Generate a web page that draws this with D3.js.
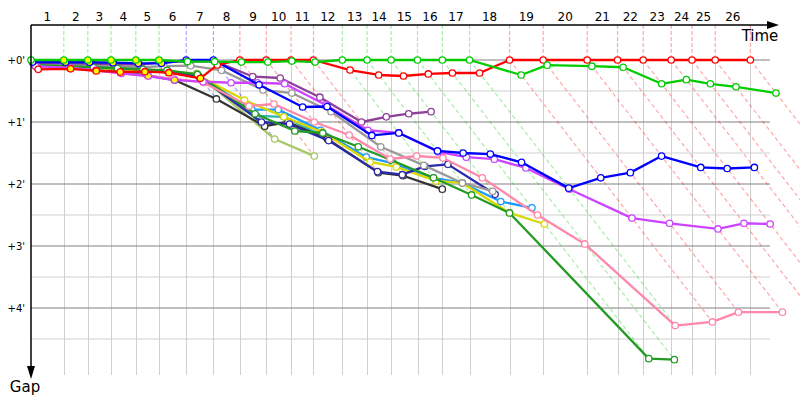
<!DOCTYPE html>
<html>
<head>
<meta charset="UTF-8" />
<title>Gap chart</title>
<script src="https://cdn.jsdelivr.net/npm/d3@7"></script>
<style>
	body { margin: 0; background: #fff; }
	svg { font-family: "DejaVu Sans", sans-serif; }
</style>
</head>
<body>
<div id="chart"></div>
<script>
// leader's cumulative time at the end of each lap (s)
var lapTimes = [41, 71, 100, 131, 160, 194, 228, 261, 294, 325, 353, 389, 420,
	450, 483, 514, 548, 598, 640, 695, 733, 765, 800, 826, 855, 899];
var lapLabels = d3.range(1, 27);
var gapTicks = [0, 60, 120, 180, 240];
var gapLabels = ["+0'", "+1'", "+2'", "+3'", "+4'"];

// gap to the leader at each lap (s), lap 0 first
var gapsGreen = [0, 0, 0, 0, 0, 0, 1.5, 1.5, 2, 2, 1, 2, 0, 0, 0, 0, 0, 0, 14.5, 5, 6, 7, 23, 19, 23, 26, 32];
var gapsRed = [9, 8.5, 10.6, 11.5, 11.3, 12.3, 17.7, 4.8, 0, 0, 0, 0, 9.7, 14.5, 15.5, 13.5, 12.6, 12.6, 0, 0, 0, 0, 0, 0, 0, 0, 0];
var gapsBlue = [2, 2.2, 2.2, 2.6, 3.2, 3.2, 0, 0, 24, 45.5, 45, 73, 70.6, 88, 90, 91, 99, 124, 114, 109, 93, 104, 105, 104];
var gapsViolet = [6, 7.7, 10, 12.9, 15.5, 19.4, 21, 22, 22, 23, 43.5, 68, 70.6, 89, 94, 96, 104.5, 125, 153, 158, 163.5, 158, 158.7];
var gapsPink = [7, 8, 10, 13, 15.5, 18, 22, 44.5, 42.6, 60, 72.6, 95.8, 92.9, 94.8, 114, 150, 178, 257, 253.5, 244, 244];
var gapsDarkGreen = [5, 6, 7, 8, 9, 10, 14, 52, 68.7, 70.6, 84, 96.8, 114, 130.6, 148, 289, 290];
var gapsPurple = [3, 3, 3.5, 4, 4.5, 2, 1.5, 1, 16, 17.4, 36, 60, 55, 52, 50];
var gapsGrey = [4, 4.5, 5, 6, 7, 6, 5.5, 10, 29, 32, 50, 84, 102, 119, 127];
var gapsNavy = [5, 6, 7, 8, 9, 11, 16, 60, 62, 78, 108, 111, 103, 101, 130];
var gapsYellow = [5, 6, 7.5, 9, 10, 12, 15, 38.7, 55, 69.7, 98.7, 103.5, 117, 119, 148, 158.7];
var gapsSky = [5, 6, 7.5, 9, 10, 12, 15, 48, 48, 68, 94, 100, 114, 119, 137, 143];
var gapsBlack = [6, 7, 9, 12, 15, 19.4, 37.7, 64, 60, 76.5, 109, 112, 125];
var gapsOlive = [5, 6, 7, 8, 10, 11, 13, 76.5, 93];
var gapsTeal = [5, 6, 7, 8, 10, 11, 14, 54, 55, 75];

// drawn bottom to top
var series = [
	{ gaps: gapsTeal, color: "#2ab5b5", yellow: 0 },
	{ gaps: gapsOlive, color: "#a8c864", yellow: 0 },
	{ gaps: gapsBlack, color: "#333333", yellow: 0 },
	{ gaps: gapsSky, color: "#1e9bff", yellow: 0 },
	{ gaps: gapsYellow, color: "#d8d800", yellow: 0 },
	{ gaps: gapsNavy, color: "#2a2aa8", yellow: 0 },
	{ gaps: gapsGrey, color: "#999999", yellow: 0 },
	{ gaps: gapsPurple, color: "#8e3f9a", yellow: 0 },
	{ gaps: gapsDarkGreen, color: "#239b23", yellow: 0 },
	{ gaps: gapsPink, color: "#ff88aa", yellow: 0 },
	{ gaps: gapsViolet, color: "#cc44ff", yellow: 5 },
	{ gaps: gapsBlue, color: "#0000ff", yellow: 5 },
	{ gaps: gapsRed, color: "#ff0000", yellow: 6 },
	{ gaps: gapsGreen, color: "#00cc00", yellow: 5 }
];

var W = 800, H = 400;
var svg = d3.select("#chart").append("svg").attr("width", W).attr("height", H);

var x = d3.scaleLinear().domain([0, 936]).range([31, 780]);
var y = d3.scaleLinear().domain([0, 300]).range([60, 370]);
var xEnd = 770, yBottom = 375, yTop = 25;

var times = [0].concat(lapTimes);
var raceEnd = lapTimes[lapTimes.length - 1];
var pt = function(k, g) { return [x(times[k] + g), y(g)]; };

// leader of each lap
var leaderColor = lapTimes.map(function(t, i) {
	var k = i + 1, best = null;
	series.forEach(function(s) {
		if (s.gaps.length > k && (best === null || s.gaps[k] < best.gaps[k])) best = s;
	});
	return best.color;
});

// horizontal grid
var minor = d3.range(30, 330, 60);
svg.selectAll(".hminor").data(minor).enter().append("line")
	.attr("x1", 31).attr("x2", xEnd)
	.attr("y1", function(d) { return y(d); }).attr("y2", function(d) { return y(d); })
	.attr("stroke", "#cfcfcf").attr("stroke-width", 1);

// vertical grid below the zero line
svg.selectAll(".vgrid").data(lapTimes).enter().append("line")
	.attr("x1", function(d) { return Math.round(x(d)) + 0.5; })
	.attr("x2", function(d) { return Math.round(x(d)) + 0.5; })
	.attr("y1", y(0)).attr("y2", yBottom)
	.attr("stroke", "#cfcfcf").attr("stroke-width", 1);

svg.selectAll(".hmajor").data(gapTicks).enter().append("line")
	.attr("x1", 31).attr("x2", xEnd)
	.attr("y1", function(d) { return y(d); }).attr("y2", function(d) { return y(d); })
	.attr("stroke", "#808080").attr("stroke-width", 1);

// leader colour above the zero line
svg.selectAll(".vtop").data(lapTimes).enter().append("line")
	.attr("x1", function(d) { return x(d); }).attr("x2", function(d) { return x(d); })
	.attr("y1", yTop).attr("y2", y(0))
	.attr("stroke", function(d, i) { return leaderColor[i]; })
	.attr("stroke-opacity", 0.35).attr("stroke-width", 1.2)
	.attr("stroke-dasharray", "4,2");

// same-lap diagonals, down to the slowest car on that lap
// (lapped cars that are still classified at the flag count too)
lapTimes.forEach(function(t, i) {
	var k = i + 1, gmax = 0;
	series.forEach(function(s) {
		var last = s.gaps.length - 1;
		if (last >= k) gmax = Math.max(gmax, s.gaps[k]);
		else if (times[last] + s.gaps[last] >= raceEnd) gmax = Math.max(gmax, s.gaps[last]);
	});
	if (gmax <= 0) return;
	var a = pt(k, 0), b = pt(k, gmax);
	svg.append("line")
		.attr("x1", a[0]).attr("y1", a[1]).attr("x2", b[0]).attr("y2", b[1])
		.attr("stroke", leaderColor[i]).attr("stroke-opacity", 0.35)
		.attr("stroke-width", 1.2).attr("stroke-dasharray", "4,3");
});

// series
var line = d3.line();
series.forEach(function(s) {
	var pts = s.gaps.map(function(g, k) { return pt(k, g); });
	var grp = svg.append("g");
	grp.append("path").attr("d", line(pts))
		.attr("fill", "none").attr("stroke", s.color)
		.attr("stroke-width", 2.3).attr("stroke-linejoin", "round");
	grp.selectAll("circle").data(pts).enter().append("circle")
		.attr("cx", function(d) { return d[0]; })
		.attr("cy", function(d) { return d[1]; })
		.attr("r", 3.2)
		.attr("fill", function(d, k) { return k >= 1 && k <= s.yellow ? "#ffff00" : "#fff"; })
		.attr("stroke", s.color).attr("stroke-width", 1.3);
});

// axes
svg.append("line").attr("x1", 31).attr("x2", 769).attr("y1", yTop).attr("y2", yTop)
	.attr("stroke", "#000").attr("stroke-width", 1.5);
svg.append("path").attr("d", "M767,21 L779,25 L767,29 Z").attr("fill", "#000");
svg.append("line").attr("x1", 31).attr("x2", 31).attr("y1", yTop).attr("y2", 368)
	.attr("stroke", "#000").attr("stroke-width", 1.5);
svg.append("path").attr("d", "M27,366 L31,379 L35,366 Z").attr("fill", "#000");

svg.append("text").attr("x", 760).attr("y", 41).attr("text-anchor", "middle")
	.attr("font-size", 15).text("Time");
svg.append("text").attr("x", 25).attr("y", 392).attr("text-anchor", "middle")
	.attr("font-size", 15).text("Gap");

svg.selectAll(".laplab").data(lapLabels).enter().append("text")
	.attr("x", function(d, i) { return (x(times[i]) + x(times[i + 1])) / 2; })
	.attr("y", 21).attr("text-anchor", "middle").attr("font-size", 12)
	.text(function(d) { return d; });

svg.selectAll(".gaplab").data(gapTicks).enter().append("text")
	.attr("x", 25).attr("y", function(d) { return y(d) + 4; })
	.attr("text-anchor", "end").attr("font-size", 10)
	.text(function(d, i) { return gapLabels[i]; });
</script>
</body>
</html>
